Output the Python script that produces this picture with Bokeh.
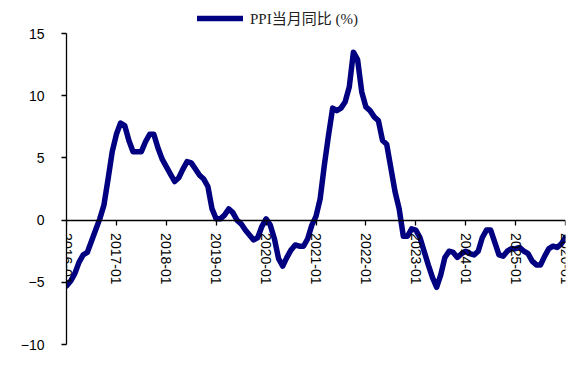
import math
from bokeh.plotting import figure
from bokeh.models import Range1d, FixedTicker, Legend, LegendItem
from bokeh.embed import file_html
from bokeh.resources import INLINE

# Monthly PPI YoY (%) from 2016-01 to 2026-01
ppi = [
    -5.3, -4.9, -4.3, -3.4, -2.8, -2.6, -1.7, -0.8, 0.1, 1.2, 3.3, 5.5,   # 2016
    6.9, 7.8, 7.6, 6.4, 5.5, 5.5, 5.5, 6.3, 6.9, 6.9, 5.8, 4.9,          # 2017
    4.3, 3.7, 3.1, 3.4, 4.1, 4.7, 4.6, 4.1, 3.6, 3.3, 2.7, 0.9,          # 2018
    0.1, 0.1, 0.4, 0.9, 0.6, 0.0, -0.3, -0.8, -1.2, -1.6, -1.4, -0.5,    # 2019
    0.1, -0.4, -1.5, -3.1, -3.7, -3.0, -2.4, -2.0, -2.1, -2.1, -1.5, -0.4,  # 2020
    0.3, 1.7, 4.4, 6.8, 9.0, 8.8, 9.0, 9.5, 10.7, 13.5, 12.9, 10.3,      # 2021
    9.1, 8.8, 8.3, 8.0, 6.4, 6.1, 4.2, 2.3, 0.9, -1.3, -1.3, -0.7,       # 2022
    -0.8, -1.4, -2.5, -3.6, -4.6, -5.4, -4.4, -3.0, -2.5, -2.6, -3.0, -2.7,  # 2023
    -2.5, -2.7, -2.8, -2.5, -1.4, -0.8, -0.8, -1.8, -2.8, -2.9, -2.5, -2.3,  # 2024
    -2.3, -2.2, -2.5, -2.7, -3.3, -3.6, -3.6, -2.9, -2.3, -2.1, -2.2, -1.9,  # 2025
    -1.4,                                                                # 2026
]
tick_labels = ["2016-01", "2017-01", "2018-01", "2019-01", "2020-01", "2021-01",
               "2022-01", "2023-01", "2024-01", "2025-01", "2026-01"]
y_ticks = [-10, -5, 0, 5, 10, 15]
series_name = "PPI当月同比 (%)"

months = list(range(len(ppi)))
tick_pos = [12 * i for i in range(len(tick_labels))]

# frame extends above the top tick so the legend (drawn inside the frame) is not clipped
y_top = y_ticks[-1] + 25 * (y_ticks[-1] - y_ticks[0]) / 311.0

p = figure(width=572, height=366, output_backend="svg", toolbar_location=None,
           x_range=Range1d(0, tick_pos[-1]), y_range=Range1d(y_ticks[0], y_top),
           min_border_left=66, min_border_right=7, min_border_top=8,
           min_border_bottom=22)
p.outline_line_color = None
p.xgrid.visible = False
p.ygrid.visible = False
p.background_fill_color = "white"
p.border_fill_color = "white"

color = "#000080"
r = p.line(months, ppi, line_color=color, line_width=5.5,
           line_join="round", line_cap="round")

for ax in (p.xaxis[0], p.yaxis[0]):
    ax.axis_line_color = "black"
    ax.axis_line_width = 1.3
    ax.major_tick_line_color = "black"
    ax.major_tick_line_width = 1.3
    ax.major_tick_out = 5
    ax.major_tick_in = 0
    ax.minor_tick_line_color = None
    ax.major_label_text_font = "Liberation Sans"
    ax.major_label_text_font_size = "14px"
    ax.major_label_text_color = "black"

p.yaxis.ticker = FixedTicker(ticks=y_ticks)
p.yaxis.bounds = (y_ticks[0], y_ticks[-1])
p.yaxis.major_label_standoff = 17

p.xaxis.ticker = FixedTicker(ticks=tick_pos)
p.xaxis.major_label_overrides = {t: l for t, l in zip(tick_pos, tick_labels)}
p.xaxis.major_label_orientation = -math.pi / 2
p.xaxis.major_label_standoff = 8
p.xaxis.fixed_location = 0

legend = Legend(items=[LegendItem(label=series_name, renderers=[r])],
                location=(131, 316), padding=0, margin=0,
                glyph_width=46, glyph_height=16, label_height=16,
                label_standoff=7, border_line_color=None,
                background_fill_alpha=0,
                label_text_font="Liberation Serif, Noto Sans CJK SC",
                label_text_font_size="15px", label_text_color="#222222")
p.add_layout(legend, "center")

open("out.html", "w").write(file_html(p, INLINE))
